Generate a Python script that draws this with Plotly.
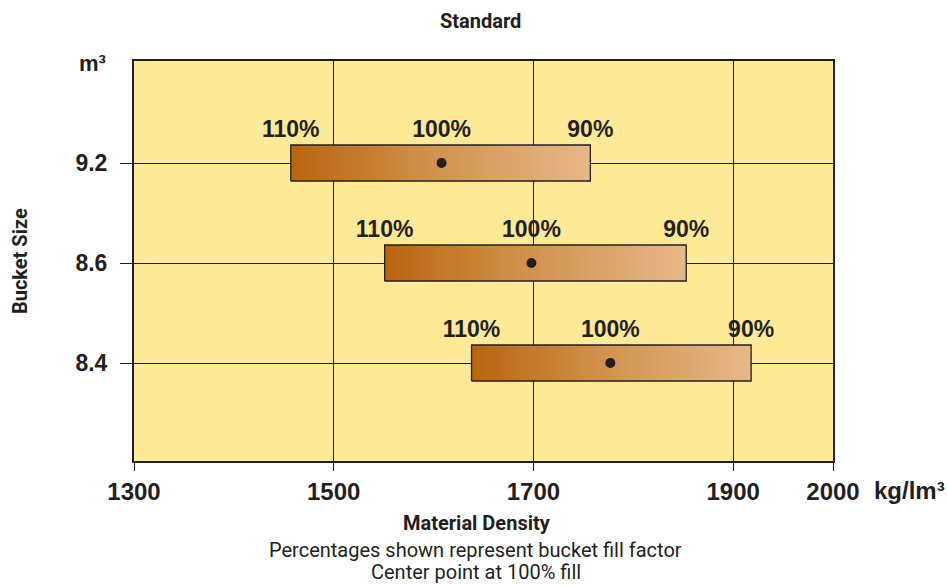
import plotly.graph_objects as go

# Bucket sizes (m³) and material density ranges (kg/lm³)
bucket_sizes = ["9.2", "8.6", "8.4"]
row_pos = [3, 2, 1]
density_110 = [1457, 1551, 1638]   # density at 110% fill
density_100 = [1608, 1698, 1777]   # density at 100% fill (centre point)
density_90 = [1757, 1853, 1918]    # density at 90% fill
fill_labels = ["110%", "100%", "90%"]

x_ticks = [1300, 1500, 1700, 1900, 2000]

INK = "#231f20"
BAR_HALF = 0.18
LABEL_OFFSET = 0.32
COND = "Roboto, sans-serif"
SANS = "Liberation Sans, Arial, sans-serif"

fig = go.Figure()

for y, lo, mid, hi in zip(row_pos, density_110, density_100, density_90):
    fig.add_trace(go.Scatter(
        x=[lo, hi, hi, lo, lo],
        y=[y - BAR_HALF, y - BAR_HALF, y + BAR_HALF, y + BAR_HALF, y - BAR_HALF],
        mode="lines",
        fill="toself",
        fillgradient=dict(type="horizontal",
                          colorscale=[[0, "#b9650f"], [0.5, "#d29450"], [1, "#e6b888"]]),
        line=dict(color=INK, width=1.3),
        hoverinfo="skip",
        showlegend=False,
    ))
    fig.add_trace(go.Scatter(
        x=[mid], y=[y], mode="markers",
        marker=dict(color=INK, size=10),
        showlegend=False,
    ))
    fig.add_trace(go.Scatter(
        x=[lo, mid, hi], y=[y + LABEL_OFFSET] * 3,
        mode="text", text=fill_labels,
        textposition="middle center",
        textfont=dict(family=SANS, size=23, color=INK, weight="bold"),
        showlegend=False,
    ))

fig.update_xaxes(
    range=[1300, 2000],
    tickvals=x_ticks,
    ticktext=[str(v) for v in x_ticks],
    showgrid=True, gridcolor=INK, gridwidth=1,
    ticks="outside", ticklen=8, tickcolor=INK, tickwidth=1,
    tickfont=dict(family=SANS, size=24, color=INK, weight="bold"),
    showline=True, linecolor=INK, linewidth=2, mirror=True,
    zeroline=False,
)
fig.update_yaxes(
    range=[0.02, 4.02],
    tickvals=row_pos,
    ticktext=bucket_sizes,
    showgrid=True, gridcolor=INK, gridwidth=1,
    ticks="outside", ticklen=12, tickcolor=INK, tickwidth=1,
    ticklabelstandoff=8,
    tickfont=dict(family=SANS, size=23, color=INK, weight="bold"),
    showline=True, linecolor=INK, linewidth=2, mirror=True,
    zeroline=False,
)

annotations = [
    dict(text="Standard", x=0.495, y=1.0, yshift=40, xref="paper", yref="paper",
         font=dict(family=COND, size=20, color=INK, weight="bold")),
    dict(text="m³", x=-0.06, y=0.995, xref="paper", yref="paper",
         font=dict(family=SANS, size=22, color=INK, weight="bold")),
    dict(text="kg/lm³", x=1.056, y=-0.073, xref="paper", yref="paper",
         xanchor="left",
         font=dict(family=SANS, size=24, color=INK, weight="bold")),
    dict(text="Bucket Size", x=-0.163, y=0.5, xref="paper", yref="paper",
         textangle=-90,
         font=dict(family=COND, size=20, color=INK, weight="bold")),
    dict(text="Material Density", x=0.491, y=-0.155, xref="paper", yref="paper",
         font=dict(family=COND, size=20, color=INK, weight="bold")),
    dict(text="Percentages shown represent bucket fill factor", x=0.489, y=-0.223,
         xref="paper", yref="paper",
         font=dict(family=COND, size=20, color=INK)),
    dict(text="Center point at 100% fill", x=0.489, y=-0.278,
         xref="paper", yref="paper",
         font=dict(family=COND, size=20, color=INK)),
]
for a in annotations:
    a.setdefault("xanchor", "center")
    a.update(showarrow=False, yanchor="middle")

fig.update_layout(
    width=948, height=586,
    margin=dict(l=134, r=115, t=61, b=125),
    paper_bgcolor="white",
    plot_bgcolor="#fee996",
    annotations=annotations,
    showlegend=False,
)

fig.write_html("out.html")
